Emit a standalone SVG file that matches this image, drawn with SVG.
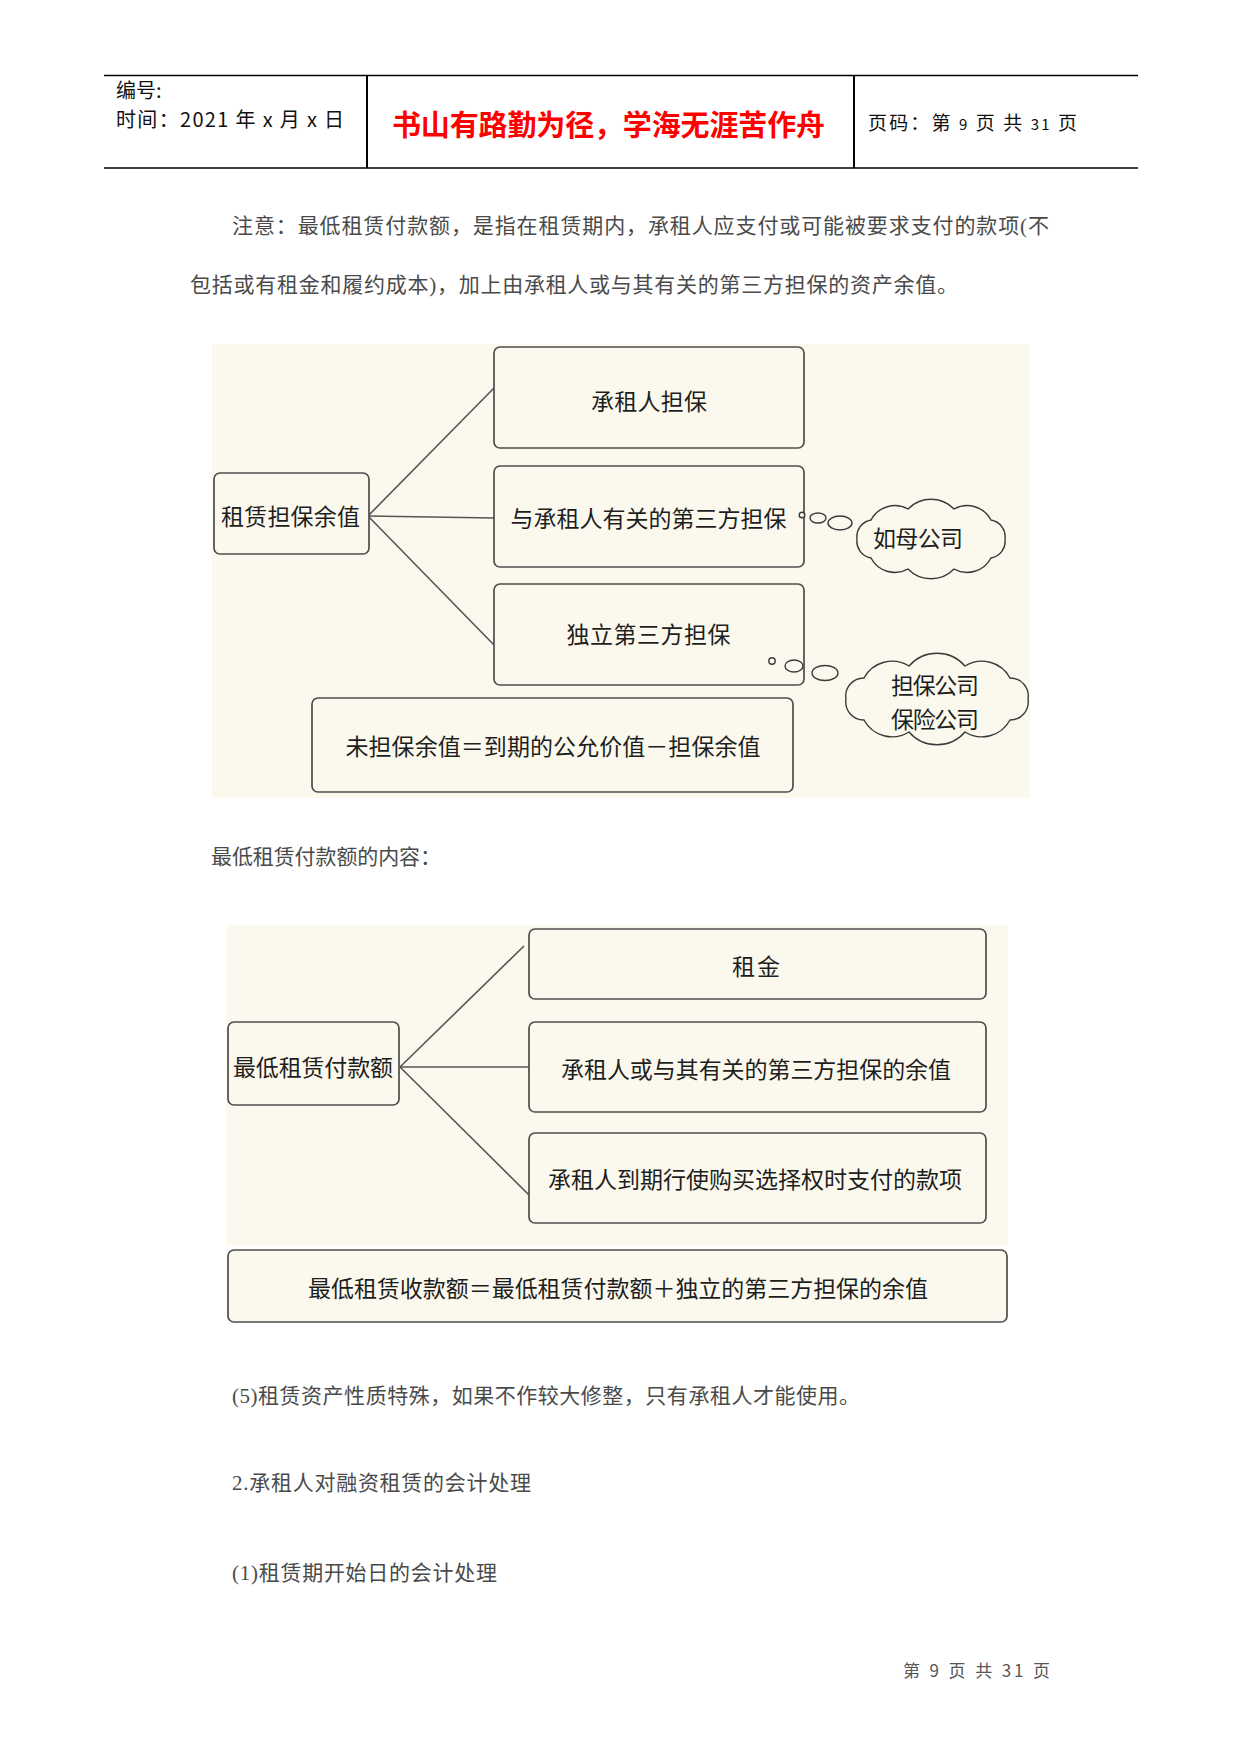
<svg xmlns="http://www.w3.org/2000/svg" width="1241" height="1754" viewBox="0 0 1241 1754">
<style>
  .hdr { font-family: "Noto Sans CJK SC", "Liberation Sans", sans-serif; fill: #111; }
  .para { font-family: "Liberation Serif", "Noto Sans CJK SC", serif; font-size: 21px; fill: #4a4a4a; }
  .bg { fill: #FBF9ED; }
  .box { fill: #FBF9ED; stroke: #4d4d4d; stroke-width: 1.7; }
  .lbl { font-family: "Noto Sans CJK SC", "Liberation Sans", sans-serif; font-size: 23px; fill: #1e1e1e; text-anchor: middle; dominant-baseline: central; }
  .conn { stroke: #555; stroke-width: 1.6; fill: none; }
  .cloud { fill: #FBF9ED; stroke: #3a3a3a; stroke-width: 1.4; }
</style>
<rect x="0" y="0" width="1241" height="1754" fill="#ffffff"/>

<g id="header">
  <line x1="104" y1="75.5" x2="1138" y2="75.5" stroke="#000" stroke-width="1.5"/>
  <line x1="104" y1="168" x2="1138" y2="168" stroke="#000" stroke-width="1.5"/>
  <line x1="367" y1="75.5" x2="367" y2="168" stroke="#000" stroke-width="2"/>
  <line x1="854" y1="75.5" x2="854" y2="168" stroke="#000" stroke-width="2"/>
  <text class="hdr" x="116" y="98" font-size="20">编号:</text>
  <text class="hdr" x="116" y="127" font-size="20" textLength="228" lengthAdjust="spacing">时间：2021 年 x 月 x 日</text>
  <text x="608.5" y="122.5" font-family="Noto Sans CJK SC, sans-serif" font-size="29" font-weight="bold" fill="#FF0000" text-anchor="middle" dominant-baseline="central" textLength="433" lengthAdjust="spacing">书山有路勤为径，学海无涯苦作舟</text>
  <text class="hdr" x="868" y="130" font-size="19" textLength="209" lengthAdjust="spacing">页码：第 <tspan font-size="15">9</tspan> 页  共 <tspan font-size="15">31</tspan> 页</text>
</g>

<g id="intro-text">
  <text class="para" x="232" y="233" textLength="817" lengthAdjust="spacing">注意：最低租赁付款额，是指在租赁期内，承租人应支付或可能被要求支付的款项(不</text>
  <text class="para" x="190" y="292" textLength="768" lengthAdjust="spacing">包括或有租金和履约成本)，加上由承租人或与其有关的第三方担保的资产余值。</text>
</g>

<g id="diagram1">
  <rect class="bg" x="212" y="344" width="818" height="454"/>
  <g id="d1-connectors">
    <line class="conn" x1="368" y1="516" x2="494" y2="388"/>
    <line class="conn" x1="368" y1="516" x2="494" y2="518"/>
    <line class="conn" x1="368" y1="516" x2="494" y2="645"/>
  </g>
  <g id="d1-root">
    <rect class="box" x="214" y="473" width="155" height="81" rx="6"/>
    <text class="lbl" x="290.5" y="515" textLength="139" lengthAdjust="spacing">租赁担保余值</text>
  </g>
  <g id="d1-lessee">
    <rect class="box" x="494" y="347" width="310" height="101" rx="6"/>
    <text class="lbl" x="649" y="400" textLength="116" lengthAdjust="spacing">承租人担保</text>
  </g>
  <g id="d1-related">
    <rect class="box" x="494" y="466" width="310" height="101" rx="6"/>
    <text class="lbl" x="648.5" y="517" textLength="276" lengthAdjust="spacing">与承租人有关的第三方担保</text>
  </g>
  <g id="d1-independent">
    <rect class="box" x="494" y="584" width="310" height="101" rx="6"/>
    <text class="lbl" x="648.5" y="633" textLength="164" lengthAdjust="spacing">独立第三方担保</text>
  </g>
  <g id="d1-unguaranteed">
    <rect class="box" x="312" y="698" width="481" height="94" rx="6"/>
    <text class="lbl" x="553" y="745" textLength="415" lengthAdjust="spacing">未担保余值＝到期的公允价值－担保余值</text>
  </g>
  <g id="d1-cloud1">
    <circle class="cloud" cx="802" cy="515" r="2.8"/>
    <ellipse class="cloud" cx="818" cy="518" rx="8" ry="5"/>
    <ellipse class="cloud" cx="840" cy="523" rx="12" ry="7"/>
    <path class="cloud" d="M1005,539 A17,17 0 0 1 991,558 A27,27 0 0 1 954,569 A32,32 0 0 1 908,569 A27,27 0 0 1 871,558 A17,17 0 0 1 857,539 A17,17 0 0 1 871,520 A27,27 0 0 1 908,509 A32,32 0 0 1 954,509 A27,27 0 0 1 991,520 A17,17 0 0 1 1005,539 Z"/>
    <text class="lbl" x="918" y="537" textLength="90" lengthAdjust="spacing">如母公司</text>
  </g>
  <g id="d1-cloud2">
    <circle class="cloud" cx="772" cy="661" r="3.2"/>
    <ellipse class="cloud" cx="794" cy="666" rx="9" ry="6"/>
    <ellipse class="cloud" cx="825" cy="673" rx="13" ry="7.5"/>
    <path class="cloud" d="M1028,699 A18,18 0 0 1 1010,720 A32,32 0 0 1 965,732 A37,37 0 0 1 909,732 A32,32 0 0 1 864,720 A18,18 0 0 1 846,699 A18,18 0 0 1 864,678 A32,32 0 0 1 909,666 A37,37 0 0 1 965,666 A32,32 0 0 1 1010,678 A18,18 0 0 1 1028,699 Z"/>
    <text class="lbl" x="935" y="684" textLength="88" lengthAdjust="spacing">担保公司</text>
    <text class="lbl" x="935" y="718" textLength="88" lengthAdjust="spacing">保险公司</text>
  </g>
</g>

<g id="mid-text">
  <text class="para" x="211" y="864" textLength="230" lengthAdjust="spacing">最低租赁付款额的内容：</text>
</g>

<g id="diagram2">
  <rect class="bg" x="226" y="925" width="782" height="320"/>
  <g id="d2-connectors">
    <line class="conn" x1="400" y1="1067" x2="524" y2="946"/>
    <line class="conn" x1="400" y1="1067" x2="529" y2="1067"/>
    <line class="conn" x1="400" y1="1067" x2="529" y2="1195"/>
  </g>
  <g id="d2-root">
    <rect class="box" x="228" y="1022" width="171" height="83" rx="6"/>
    <text class="lbl" x="313" y="1066" textLength="160" lengthAdjust="spacing">最低租赁付款额</text>
  </g>
  <g id="d2-rent">
    <rect class="box" x="529" y="929" width="457" height="70" rx="6"/>
    <text class="lbl" x="756" y="965" textLength="48" lengthAdjust="spacing">租金</text>
  </g>
  <g id="d2-guaranteed">
    <rect class="box" x="529" y="1022" width="457" height="90" rx="6"/>
    <text class="lbl" x="756" y="1068" textLength="390" lengthAdjust="spacing">承租人或与其有关的第三方担保的余值</text>
  </g>
  <g id="d2-option">
    <rect class="box" x="529" y="1133" width="457" height="90" rx="6"/>
    <text class="lbl" x="755" y="1178" textLength="414" lengthAdjust="spacing">承租人到期行使购买选择权时支付的款项</text>
  </g>
  <g id="d2-receipts">
    <rect class="box" x="228" y="1250" width="779" height="72" rx="6"/>
    <text class="lbl" x="618" y="1287" textLength="620" lengthAdjust="spacing">最低租赁收款额＝最低租赁付款额＋独立的第三方担保的余值</text>
  </g>
</g>

<g id="body-text">
  <text class="para" x="232" y="1403" textLength="628" lengthAdjust="spacing">(5)租赁资产性质特殊，如果不作较大修整，只有承租人才能使用。</text>
  <text class="para" x="232" y="1490" textLength="299" lengthAdjust="spacing">2.承租人对融资租赁的会计处理</text>
  <text class="para" x="232" y="1580" textLength="265" lengthAdjust="spacing">(1)租赁期开始日的会计处理</text>
</g>

<g id="footer">
  <text x="903" y="1677" font-family="Noto Sans CJK SC, sans-serif" font-size="17" fill="#555" textLength="147" lengthAdjust="spacing">第 9 页 共 31 页</text>
</g>
</svg>
